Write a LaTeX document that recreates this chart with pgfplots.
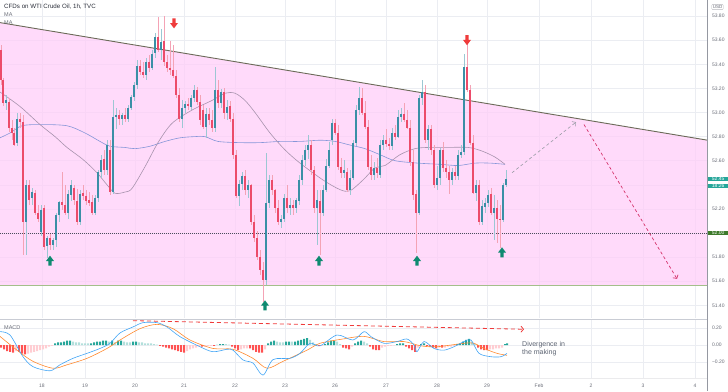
\documentclass[border=0pt]{standalone}
\usepackage{fontspec}
\setmainfont{Liberation Sans}
\usepackage{pgfplots}
\usepackage{pgfplotstable}
\pgfplotsset{compat=1.18}
\usetikzlibrary{arrows.meta}

\definecolor{upc}{HTML}{3A8FA6}
\definecolor{dnc}{HTML}{EC4B6A}
\definecolor{upw}{HTML}{9CC7D3}
\definecolor{dnw}{HTML}{F4A3B5}
\definecolor{pinkfill}{HTML}{FFCEF8}
\definecolor{gridc}{HTML}{EBEDF2}
\definecolor{tickc}{HTML}{6A6D78}
\definecolor{titlec}{HTML}{2A2E39}
\definecolor{trendc}{HTML}{6B6A58}
\definecolor{supc}{HTML}{A3BF8A}
\definecolor{maslow}{HTML}{8796D8}
\definecolor{mafast}{HTML}{A893AE}
\definecolor{arrred}{HTML}{EF3B3B}
\definecolor{arrgreen}{HTML}{0E8A70}
\definecolor{macdc}{HTML}{42A5F5}
\definecolor{sigc}{HTML}{FF8A30}
\definecolor{hdg}{HTML}{26A69A}
\definecolor{hlg}{HTML}{B2DFDB}
\definecolor{hdr}{HTML}{FF5252}
\definecolor{hlr}{HTML}{FFCDD2}
\definecolor{dashpink}{HTML}{D6336C}
\definecolor{dashgray}{HTML}{9A9CA6}
\definecolor{divc}{HTML}{5D6472}
\definecolor{lastc}{HTML}{26A69A}
\definecolor{linec}{HTML}{3D7A2A}
\definecolor{sepc}{HTML}{C9CCD4}
\definecolor{axisc}{HTML}{9598A1}
\definecolor{dotc}{HTML}{4A4E5A}

\newcommand{\tickfont}{\fontsize{5}{6}\selectfont}

\pgfdeclareplotmark{dnarrow}{%
  \pgfpathmoveto{\pgfqpoint{-1.7pt}{5pt}}%
  \pgfpathlineto{\pgfqpoint{1.7pt}{5pt}}%
  \pgfpathlineto{\pgfqpoint{1.7pt}{0.3pt}}%
  \pgfpathlineto{\pgfqpoint{4pt}{0.3pt}}%
  \pgfpathlineto{\pgfqpoint{0pt}{-5pt}}%
  \pgfpathlineto{\pgfqpoint{-4pt}{0.3pt}}%
  \pgfpathlineto{\pgfqpoint{-1.7pt}{0.3pt}}%
  \pgfpathclose\pgfusepathqfill}
\pgfdeclareplotmark{uparrow}{%
  \pgfpathmoveto{\pgfqpoint{-1.7pt}{-5pt}}%
  \pgfpathlineto{\pgfqpoint{1.7pt}{-5pt}}%
  \pgfpathlineto{\pgfqpoint{1.7pt}{-0.3pt}}%
  \pgfpathlineto{\pgfqpoint{4pt}{-0.3pt}}%
  \pgfpathlineto{\pgfqpoint{0pt}{5pt}}%
  \pgfpathlineto{\pgfqpoint{-4pt}{-0.3pt}}%
  \pgfpathlineto{\pgfqpoint{-1.7pt}{-0.3pt}}%
  \pgfpathclose\pgfusepathqfill}

\pgfplotstableread{
x o h l c
6 53.08 53.15 53.02 53.10
17 52.75 53.00 52.72 52.95
26 52.09 52.44 51.82 52.40
32 52.29 52.37 52.23 52.34
41 52.01 52.23 51.98 52.19
47 51.89 51.98 51.79 51.96
53 51.90 51.96 51.86 51.94
56 51.94 52.17 51.88 52.15
59 52.15 52.27 52.09 52.26
68 52.17 52.36 52.12 52.32
71 52.32 52.44 52.27 52.40
80 52.09 52.36 52.07 52.32
95 52.17 52.32 52.15 52.29
98 52.29 52.52 52.26 52.51
101 52.51 52.65 52.46 52.61
107 52.52 52.77 52.48 52.73
113 52.34 53.10 52.32 52.96
116 52.96 53.04 52.86 52.98
122 52.95 53.00 52.90 52.98
128 52.95 53.06 52.92 53.04
131 53.04 53.15 53.02 53.13
134 53.13 53.25 53.10 53.23
137 53.23 53.44 53.20 53.39
146 53.31 53.45 53.27 53.42
152 53.37 53.52 53.35 53.49
155 53.49 53.66 53.45 53.63
161 53.52 53.69 53.44 53.59
182 52.95 53.10 52.87 53.04
185 53.04 53.10 53.00 53.07
191 53.05 53.15 53.02 53.12
194 53.12 53.23 53.09 53.19
206 52.88 53.04 52.79 52.99
215 52.87 53.38 52.84 53.19
221 53.08 53.20 53.04 53.17
227 53.00 53.10 52.94 53.05
239 52.31 52.44 52.22 52.41
242 52.41 52.51 52.36 52.47
248 52.36 52.44 52.29 52.40
266 51.61 52.66 51.57 52.25
269 52.25 52.48 52.21 52.44
281 52.09 52.15 52.04 52.12
284 52.12 52.32 52.09 52.29
290 52.21 52.29 52.15 52.23
296 52.21 52.29 52.17 52.27
299 52.27 52.48 52.23 52.44
302 52.44 52.65 52.40 52.61
305 52.61 52.73 52.56 52.69
308 52.69 52.81 52.61 52.73
317 52.21 52.36 51.90 52.27
323 52.17 52.40 52.14 52.36
326 52.36 52.61 52.34 52.56
329 52.56 52.76 52.54 52.69
332 52.77 52.95 52.73 52.91
344 52.50 52.61 52.46 52.52
350 52.36 52.52 52.32 52.46
353 52.46 52.77 52.44 52.75
356 52.75 53.06 52.72 53.02
359 53.02 53.21 52.98 53.12
374 52.48 52.59 52.44 52.54
380 52.48 52.77 52.46 52.73
383 52.73 52.81 52.69 52.77
392 52.72 52.87 52.69 52.83
398 52.80 53.02 52.79 52.96
401 52.96 53.04 52.92 52.99
419 52.17 53.15 52.15 53.12
422 53.12 53.27 53.06 53.17
428 52.77 52.90 52.69 52.86
437 52.40 52.56 52.36 52.46
440 52.46 52.71 52.40 52.69
452 52.44 52.54 52.40 52.51
458 52.47 52.69 52.44 52.65
461 52.65 52.73 52.62 52.67
464 52.67 53.49 52.65 53.38
476 52.33 52.44 52.27 52.40
482 52.09 52.27 52.07 52.22
485 52.22 52.29 52.17 52.25
488 52.25 52.36 52.22 52.32
494 52.17 52.32 51.94 52.21
503 52.11 52.42 52.09 52.40
506 52.40 52.52 52.38 52.45
}\upcandles

\pgfplotstableread{
x o h l c
1 53.52 53.56 53.23 53.27
3 53.27 53.29 53.05 53.08
9 53.09 53.12 52.84 52.87
12 52.87 52.94 52.77 52.83
14 52.83 52.87 52.72 52.73
20 52.95 53.00 52.87 52.92
23 52.92 52.98 51.82 52.09
29 52.40 52.44 52.23 52.27
35 52.33 52.36 52.15 52.17
38 52.17 52.23 52.09 52.12
44 52.21 52.23 51.86 51.88
50 51.96 51.99 51.86 51.90
62 52.26 52.51 52.19 52.23
65 52.23 52.40 52.15 52.17
74 52.37 52.40 52.23 52.27
77 52.27 52.37 52.07 52.09
83 52.33 52.40 52.27 52.31
86 52.31 52.36 52.23 52.27
89 52.27 52.34 52.22 52.25
92 52.26 52.32 52.15 52.17
104 52.61 52.69 52.48 52.52
110 52.69 52.77 52.32 52.34
119 52.98 53.02 52.90 52.95
125 52.98 53.04 52.92 52.95
140 53.39 53.44 53.31 53.34
143 53.34 53.42 53.29 53.31
149 53.42 53.48 53.34 53.37
158 53.63 53.79 53.50 53.52
164 53.59 53.80 53.39 53.42
167 53.42 53.48 53.34 53.37
170 53.37 53.59 53.31 53.35
173 53.35 53.56 53.29 53.30
176 53.30 53.35 53.12 53.15
179 53.15 53.20 52.92 52.95
188 53.07 53.12 53.02 53.05
197 53.19 53.21 53.06 53.09
200 53.09 53.15 52.90 52.94
203 53.02 53.06 52.86 52.88
209 52.99 53.04 52.90 52.94
212 52.94 53.02 52.84 52.87
218 53.19 53.27 53.04 53.08
224 53.17 53.20 52.95 53.00
230 53.05 53.10 52.92 52.95
233 52.95 53.00 52.61 52.65
236 52.65 52.69 52.29 52.31
245 52.47 52.52 52.32 52.36
251 52.40 52.41 52.07 52.09
254 52.09 52.15 51.93 51.96
257 51.96 52.02 51.78 51.80
260 51.80 51.86 51.65 51.69
263 51.69 51.76 51.43 51.61
272 52.44 52.48 52.32 52.36
275 52.36 52.37 52.17 52.21
278 52.21 52.27 52.07 52.09
287 52.29 52.40 52.17 52.21
293 52.23 52.27 52.15 52.21
311 52.73 52.77 52.48 52.52
314 52.52 52.56 52.17 52.21
320 52.27 52.36 51.82 52.17
335 52.91 52.95 52.81 52.83
338 52.83 52.90 52.52 52.55
341 52.55 52.62 52.46 52.50
347 52.51 52.54 52.34 52.36
362 53.12 53.20 52.98 53.00
365 53.00 53.10 52.86 52.88
368 52.88 52.94 52.52 52.55
371 52.55 52.65 52.44 52.48
377 52.54 52.62 52.46 52.50
386 52.77 52.86 52.71 52.74
389 52.74 52.79 52.69 52.72
395 52.83 52.90 52.77 52.80
404 52.99 53.08 52.92 52.94
407 52.94 53.02 52.86 52.87
410 52.87 52.94 52.56 52.59
413 52.59 52.69 52.27 52.32
416 52.32 52.36 51.83 52.17
425 53.17 53.23 52.75 52.77
431 52.86 52.90 52.65 52.69
434 52.69 52.73 52.37 52.40
443 52.69 52.76 52.51 52.54
446 52.54 52.61 52.46 52.51
449 52.51 52.56 52.32 52.44
455 52.51 52.56 52.44 52.47
467 53.38 53.58 53.17 53.19
470 53.19 53.23 52.73 52.75
473 52.75 52.81 52.32 52.33
479 52.40 52.44 52.07 52.09
491 52.32 52.37 52.15 52.17
497 52.21 52.27 51.92 52.12
500 52.12 52.23 51.88 52.11
}\dncandles

\begin{document}
\begin{tikzpicture}
\path[use as bounding box] (0pt,0pt) rectangle (728pt,-391pt);

% ---------------- main price pane ----------------
\begin{axis}[
  at={(0pt,0pt)}, anchor=north west, scale only axis,
  width=707pt, height=318pt,
  xmin=0, xmax=707, ymin=51.2946, ymax=53.9336,
  axis line style={draw=none}, major tick length=0pt,
  xtick={42,85,135,184,235,285,335,386,437,487,539,591,643,695},
  xticklabels={},
  ytick={51.4,51.6,51.8,52.0,52.2,52.4,52.6,52.8,53.0,53.2,53.4,53.6,53.8},
  yticklabels={51.40,51.60,51.80,,52.20,,52.60,52.80,53.00,53.20,53.40,53.60,53.80},
  yticklabel pos=right,
  yticklabel style={font=\tickfont, text=tickc, xshift=1.5pt},
  grid=major, grid style={gridc, line width=0.5pt},
]
% pink channel
\addplot[draw=none, fill=pinkfill, fill opacity=0.75] coordinates {(0,53.746) (707,52.771) (707,51.566) (0,51.566)} -- cycle;
\addplot[trendc, line width=0.9pt] coordinates {(0,53.746) (707,52.771)};
\addplot[supc, line width=1pt] coordinates {(0,51.566) (707,51.566)};
\addplot[dotc, line width=0.45pt, dash pattern=on 0.6pt off 1.4pt] coordinates {(0,52) (707,52)};

% moving averages
\addplot[maslow, line width=0.6pt, smooth] coordinates {
(0,52.79) (10,52.83) (22,52.89) (40,52.90) (67,52.89) (85,52.83) (100,52.76) (110,52.72)
(125,52.71) (135,52.70) (150,52.72) (165,52.76) (180,52.79) (195,52.80) (205,52.80) (218,52.76)
(240,52.75) (260,52.75) (280,52.76) (300,52.76) (320,52.77) (335,52.76) (350,52.73) (365,52.70)
(380,52.65) (395,52.60) (418,52.58) (440,52.57) (458,52.56) (475,52.58) (490,52.58) (505,52.57)};
\addplot[mafast, line width=0.6pt, smooth] coordinates {
(0,53.17) (20,53.05) (40,52.90) (55,52.80) (67,52.71) (83,52.61) (97,52.50) (107,52.40)
(115,52.33) (125,52.34) (132,52.37) (145,52.55) (158,52.75) (172,52.91) (192,53.02) (212,53.10)
(225,53.16) (235,53.16) (245,53.10) (255,53.00) (270,52.83) (285,52.69) (300,52.58) (323,52.44)
(340,52.36) (350,52.35) (363,52.44) (375,52.54) (385,52.56) (400,52.65) (415,52.70) (428,52.71)
(445,52.71) (468,52.71) (482,52.68) (495,52.63) (505,52.57)};

% candles: wicks
\addplot[draw=none, mark=none, forget plot, error bars/.cd, y dir=both, y explicit, error mark=none,
  error bar style={line width=0.6pt, draw=upw}]
  table[x=x, y expr={(\thisrow{h}+\thisrow{l})/2}, y error expr={(\thisrow{h}-\thisrow{l})/2}] {\upcandles};
\addplot[draw=none, mark=none, forget plot, error bars/.cd, y dir=both, y explicit, error mark=none,
  error bar style={line width=0.6pt, draw=dnw}]
  table[x=x, y expr={(\thisrow{h}+\thisrow{l})/2}, y error expr={(\thisrow{h}-\thisrow{l})/2}] {\dncandles};
% candles: bodies
\addplot[draw=none, mark=none, forget plot, error bars/.cd, y dir=both, y explicit, error mark=none,
  error bar style={line width=2pt, draw=upc}]
  table[x=x, y expr={(\thisrow{o}+\thisrow{c})/2}, y error expr={abs(\thisrow{c}-\thisrow{o})/2}] {\upcandles};
\addplot[draw=none, mark=none, forget plot, error bars/.cd, y dir=both, y explicit, error mark=none,
  error bar style={line width=2pt, draw=dnc}]
  table[x=x, y expr={(\thisrow{o}+\thisrow{c})/2}, y error expr={abs(\thisrow{c}-\thisrow{o})/2}] {\dncandles};

% arrows
\addplot[only marks, mark=dnarrow, color=arrred] coordinates {(174,53.74) (467,53.60)};
\addplot[only marks, mark=uparrow, color=arrgreen] coordinates {(50,51.77) (265,51.40) (319,51.77) (417,51.77) (502,51.84)};

% projection arrows
\addplot[dashgray, line width=0.6pt, dash pattern=on 3pt off 2.5pt, -{Straight Barb[length=2.5pt,width=6pt]}] coordinates {(512,52.50) (576,52.92)};
\addplot[dashpink, line width=0.7pt, dash pattern=on 3pt off 2.5pt, -{Straight Barb[length=2.5pt,width=6pt]}] coordinates {(584,52.90) (677,51.62)};
\end{axis}

% ---------------- MACD pane ----------------
\begin{axis}[
  at={(0pt,-320pt)}, anchor=north west, scale only axis,
  width=707pt, height=58pt,
  xmin=0, xmax=707, ymin=-0.3837, ymax=0.2907,
  axis line style={draw=none}, major tick length=0pt,
  xtick={42,85,135,184,235,285,335,386,437,487,539,591,643,695},
  xticklabels={18,19,20,21,22,23,26,27,28,29,Feb,2,3,4},
  xticklabel style={font=\tickfont, text=tickc, yshift=-2.5pt},
  ytick={-0.2,0,0.2},
  yticklabels={−0.20,0.00,0.20},
  yticklabel pos=right,
  yticklabel style={font=\tickfont, text=tickc, xshift=1.5pt},
  grid=major, grid style={gridc, line width=0.5pt},
]
\addplot[ybar, bar width=2pt, fill=hdr, draw=none] coordinates {
(1,-0.03) (4,-0.05) (7,-0.07) (10,-0.08) (13,-0.09) (19,-0.08) (22,-0.10) (25,-0.11) (160,-0.01) (163,-0.02)
(166,-0.03) (169,-0.04) (172,-0.05) (175,-0.06) (178,-0.07) (181,-0.08) (184,-0.09) (202,-0.02) (214,-0.01)
(232,-0.02) (235,-0.04) (238,-0.06) (250,-0.04) (253,-0.06) (256,-0.08) (259,-0.09) (262,-0.09) (319,-0.01)
(343,-0.03) (346,-0.04) (349,-0.05) (370,-0.02) (373,-0.05) (376,-0.06) (379,-0.06) (406,-0.02) (409,-0.04)
(412,-0.06) (415,-0.08) (427,-0.01) (430,-0.02) (433,-0.03) (436,-0.04) (442,-0.03) (478,-0.03) (481,-0.05)
(484,-0.06) (487,-0.06)};
\addplot[ybar, bar width=2pt, fill=hlr, draw=none] coordinates {
(16,-0.07) (28,-0.10) (31,-0.09) (34,-0.08) (37,-0.07) (40,-0.06) (43,-0.05) (46,-0.04) (49,-0.02) (52,-0.01)
(187,-0.07) (190,-0.05) (193,-0.04) (196,-0.03) (199,-0.02) (205,-0.02) (208,-0.01) (211,-0.01) (241,-0.05)
(244,-0.04) (247,-0.04) (265,-0.05) (322,-0.01) (352,-0.02) (382,-0.03) (385,-0.02) (388,-0.01) (391,-0.01)
(394,-0.005) (418,-0.03) (439,-0.03) (445,-0.03) (448,-0.02) (451,-0.02) (454,-0.01) (490,-0.05) (493,-0.05)
(496,-0.04) (499,-0.04) (502,-0.03)};
\addplot[ybar, bar width=2pt, fill=hdg, draw=none] coordinates {
(55,0.02) (58,0.03) (61,0.03) (64,0.04) (67,0.05) (70,0.05) (91,0.02) (94,0.03) (97,0.04) (100,0.04) (103,0.05)
(106,0.05) (112,0.05) (118,0.05) (121,0.05) (133,0.04) (136,0.04) (220,0.01) (223,0.01) (268,0.02) (271,0.04)
(274,0.05) (286,0.04) (289,0.04) (295,0.04) (298,0.05) (301,0.06) (304,0.07) (307,0.08) (325,0.01) (328,0.03)
(331,0.05) (334,0.05) (355,0.02) (358,0.04) (361,0.05) (397,0.01) (400,0.02) (403,0.02) (421,0.01) (424,0.02)
(457,0.01) (460,0.02) (463,0.04) (466,0.06) (469,0.07) (505,0.01) (507,0.02)};
\addplot[ybar, bar width=2pt, fill=hlg, draw=none] coordinates {
(73,0.04) (76,0.03) (79,0.03) (82,0.02) (85,0.02) (88,0.02) (109,0.04) (115,0.03) (124,0.04) (127,0.03) (130,0.03)
(139,0.03) (142,0.03) (145,0.02) (148,0.02) (151,0.02) (154,0.01) (157,0.005) (217,0.005) (226,0.01) (229,0.005)
(277,0.04) (280,0.03) (283,0.03) (292,0.04) (310,0.06) (313,0.03) (316,0.01) (337,0.04) (340,0.01) (364,0.04)
(367,0.02) (472,0.04) (475,0.01)};
\addplot[sigc, line width=0.6pt, smooth] coordinates {
(0,0.10) (17,-0.06) (33,-0.19) (53,-0.27) (67,-0.23) (87,-0.155) (107,-0.04) (120,0.058) (140,0.19) (157,0.24)
(173,0.19) (190,0.058) (213,-0.04) (233,-0.05) (253,-0.155) (267,-0.27) (283,-0.19) (307,-0.06) (320,0.02)
(343,0.07) (364,0.10) (384,0.04) (404,0.04) (421,-0.01) (437,-0.02) (464,0.02) (474,0.02) (484,-0.04)
(497,-0.097) (507,-0.12)};
\addplot[macdc, line width=0.6pt, smooth] coordinates {
(0,0.155) (10,0.116) (23,-0.136) (33,-0.252) (50,-0.30) (60,-0.23) (73,-0.155) (87,-0.097) (100,-0.04) (110,0.02)
(120,0.14) (133,0.21) (143,0.26) (157,0.26) (167,0.21) (180,0.097) (200,-0.02) (213,-0.078) (227,-0.05) (233,-0.06)
(243,-0.174) (253,-0.21) (263,-0.35) (273,-0.17) (290,-0.155) (300,-0.097) (310,0.02) (320,-0.01) (337,0.116)
(353,0.058) (364,0.155) (371,0.097) (384,0.02) (397,0.04) (407,0.07) (414,0.0) (417,-0.078) (424,0.04) (434,-0.04)
(444,-0.06) (454,-0.02) (464,0.04) (471,0.058) (479,-0.097) (491,-0.136) (501,-0.136) (507,-0.097)};
\addplot[arrred, line width=0.8pt, dash pattern=on 4pt off 3pt, -{Straight Barb[length=2.5pt,width=6pt]}] coordinates {(133,0.283) (524,0.183)};
\end{axis}

% frame lines
\draw[sepc, line width=1.3pt] (0pt,-319.3pt) -- (707pt,-319.3pt);
\draw[gridc!80!black!30, line width=0.6pt] (0pt,-378.5pt) -- (707pt,-378.5pt);
\draw[axisc, line width=0.6pt] (707pt,0pt) -- (707pt,-391pt);

% texts
\node[anchor=west, font=\fontsize{6.2}{7}\selectfont, text=titlec, inner sep=0pt] at (4pt,-6.5pt) {CFDs on WTI Crude Oil, 1h, TVC};
\node[anchor=west, font=\fontsize{5.5}{6}\selectfont, text=tickc, inner sep=0pt] at (4pt,-15pt) {MA};
\node[anchor=west, font=\fontsize{5.5}{6}\selectfont, text=tickc, inner sep=0pt] at (4pt,-23pt) {MA};
\node[anchor=west, font=\fontsize{5.5}{6}\selectfont, text=tickc, inner sep=0pt] at (4pt,-328pt) {MACD};
\node[draw=tickc!50, rounded corners=1pt, inner sep=1pt, font=\fontsize{4.5}{5}\selectfont, text=tickc] at (717.5pt,-7pt) {USD};
\node[anchor=west, fill=lastc, text=white, font=\tickfont, inner sep=0.7pt, minimum width=20pt] at (708pt,-179pt) {52.45};
\node[anchor=west, fill=lastc, text=white, font=\tickfont, inner sep=0.7pt, minimum width=20pt] at (708pt,-186pt) {18:26};
\node[anchor=west, fill=linec, text=white, font=\tickfont, inner sep=0.7pt, minimum width=20pt] at (708pt,-233pt) {52.00};
\node[anchor=north west, align=left, font=\fontsize{7}{7.5}\selectfont, text=divc, inner sep=0pt] at (522pt,-341.5pt) {Divergence in\\the making};
\end{tikzpicture}
\end{document}
